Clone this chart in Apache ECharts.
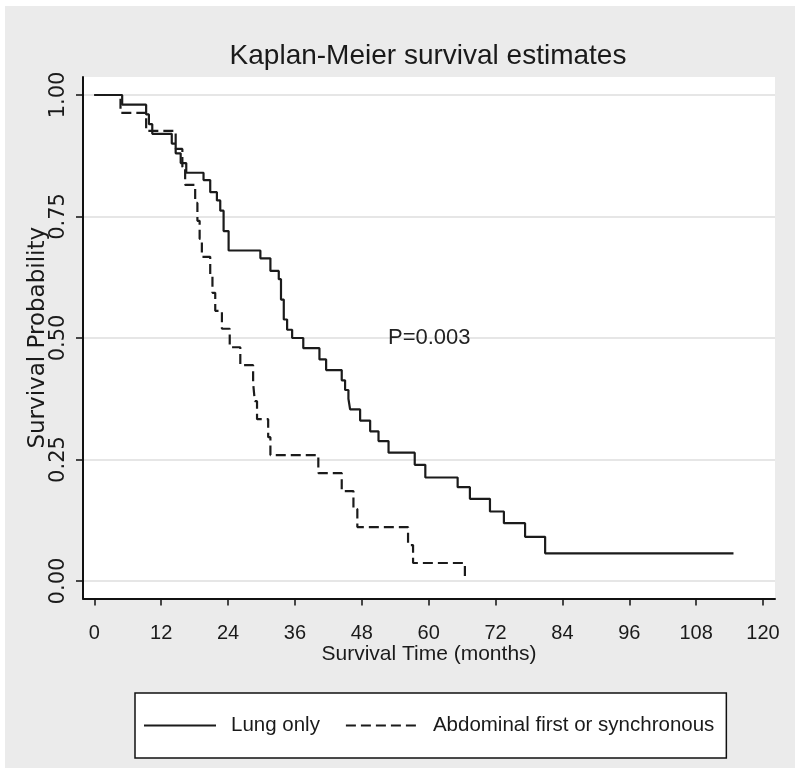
<!DOCTYPE html>
<html>
<head>
<meta charset="utf-8">
<script src="https://cdn.jsdelivr.net/npm/echarts@6/dist/echarts.min.js"></script>
<style>
html,body{margin:0;padding:0;background:#fff;}
#c{width:800px;height:775px;}
</style>
</head>
<body>
<div id="c"></div>
<script>
// ---- data ----
const titleText = 'Kaplan-Meier survival estimates';
const xAxisName = 'Survival Time (months)';
const yAxisName = 'Survival Probability';
const seriesNames = ['Lung only', 'Abdominal first or synchronous'];
const pValueText = 'P=0.003';

const xTicks = [0, 12, 24, 36, 48, 60, 72, 84, 96, 108, 120];
const yTicks = [0, 0.25, 0.5, 0.75, 1];

const lungTimes = [0, 5, 9.3, 9.8, 10.4, 13.9, 14.6, 15.5, 16.5, 19.6, 20.8, 22, 22.6, 23.2, 24.1,
  29.8, 31.6, 33.1, 33.5, 34, 34.6, 35.5, 37.5, 40.4, 41.6, 44.4, 45.0, 45.6, 45.9, 47.7, 49.5,
  51, 52.8, 57.5, 59.4, 65.2, 67.4, 71, 73.5, 77.3, 80.9, 114.7];
const lungSurv = [1, 0.98, 0.96, 0.94, 0.92, 0.90, 0.88, 0.86, 0.84, 0.825, 0.80, 0.783, 0.762, 0.72, 0.68,
  0.664, 0.638, 0.621, 0.579, 0.538, 0.517, 0.50, 0.479, 0.456, 0.434, 0.413, 0.393, 0.375, 0.353, 0.33, 0.308,
  0.288, 0.264, 0.239, 0.213, 0.193, 0.169, 0.143, 0.119, 0.091, 0.057, 0.057];

const abdTimes = [0, 4.7, 9.3, 14.6, 15.8, 16.3, 18.1, 18.5, 18.9, 19.3, 20.8, 21.2, 21.7, 22.9,
  24.3, 26.2, 28.5, 28.8, 29.2, 31.2, 31.6, 40.2, 44.4, 46.5, 47.2, 56.3, 57.2, 66.5];
const abdSurv = [1, 0.963, 0.926, 0.889, 0.852, 0.815, 0.778, 0.741, 0.704, 0.667, 0.630, 0.593, 0.556, 0.519,
  0.481, 0.444, 0.407, 0.370, 0.333, 0.296, 0.259, 0.222, 0.185, 0.148, 0.111, 0.074, 0.037, 0];

// ---- chart ----
const SANS = '"Liberation Sans", Arial, Helvetica, sans-serif';
const WIDE = '"DejaVu Sans", "Liberation Sans", Arial, sans-serif';
const INK = '#1b1b1b';

const zip = (a, b) => a.map((t, i) => [t, b[i]]);

const chart = echarts.init(document.getElementById('c'), null, { renderer: 'canvas' });

const option = {
  animation: false,
  backgroundColor: '#ffffff',
  title: {
    text: titleText,
    left: 428,
    top: 42,
    padding: 0,
    textAlign: 'center',
    textStyle: { fontFamily: SANS, fontSize: 28, fontWeight: 'normal', color: '#1a1a1a' }
  },
  graphic: [
    { type: 'rect', z: -100, silent: true, shape: { x: 5, y: 6, width: 790, height: 762 }, style: { fill: '#ebebeb' } },
    { type: 'text', z: 50, silent: true, x: 388, y: 338,
      style: { text: pValueText, fontFamily: SANS, fontSize: 22, fill: '#222', verticalAlign: 'middle', align: 'left' } }
  ],
  grid: {
    left: 83, right: 25, top: 77, bottom: 176.5,
    show: true, backgroundColor: '#ffffff', borderWidth: 0,
    outerBoundsMode: 'none', containLabel: false
  },
  legend: {
    data: seriesNames,
    left: 135, top: 693,
    orient: 'horizontal',
    selectedMode: false,
    backgroundColor: '#ffffff',
    borderColor: '#111',
    borderWidth: 1.5,
    borderRadius: 0,
    padding: [22, 12, 22, 8],
    itemWidth: 72,
    itemHeight: 14,
    itemGap: 25,
    itemStyle: { opacity: 0, borderWidth: 0 },
    textStyle: { fontFamily: SANS, fontSize: 20.5, color: '#1a1a1a', padding: [0, 0, 0, 10] }
  },
  xAxis: {
    type: 'value',
    min: -2.03, max: 122.15,
    name: xAxisName,
    nameLocation: 'middle',
    nameGap: 45,
    nameMoveOverlap: false,
    nameTextStyle: { fontFamily: SANS, fontSize: 21, color: '#1a1a1a' },
    axisLine: { show: true, onZero: false, lineStyle: { color: '#111', width: 2 } },
    axisTick: { show: true, customValues: xTicks, length: 7, lineStyle: { color: '#111', width: 1.5 } },
    axisLabel: { customValues: xTicks, margin: 25, fontFamily: SANS, fontSize: 20, color: '#1a1a1a' },
    splitLine: { show: false }
  },
  yAxis: {
    type: 'value',
    min: -0.036, max: 1.037,
    name: yAxisName,
    nameLocation: 'middle',
    nameGap: 33,
    nameMoveOverlap: false,
    nameRotate: 90,
    nameTextStyle: { fontFamily: WIDE, fontSize: 23, color: '#1a1a1a' },
    axisLine: { show: true, onZero: false, lineStyle: { color: '#111', width: 2 } },
    axisTick: { show: true, customValues: yTicks, length: 7, lineStyle: { color: '#111', width: 1.5 } },
    axisLabel: { customValues: yTicks, rotate: 90, margin: 14, fontFamily: WIDE, fontSize: 21, color: '#1a1a1a',
      formatter: v => v.toFixed(2) },
    splitLine: { show: true, lineStyle: { color: '#dedede', width: 1.5 } }
  },
  series: [
    {
      name: seriesNames[0], type: 'line', step: 'end',
      data: zip(lungTimes, lungSurv),
      symbol: 'none', showSymbol: false,
      lineStyle: { color: INK, width: 2.2, type: 'solid' },
      itemStyle: { color: INK },
      z: 3
    },
    {
      name: seriesNames[1], type: 'line', step: 'end',
      data: zip(abdTimes, abdSurv),
      symbol: 'none', showSymbol: false,
      lineStyle: { color: INK, width: 2.2, type: [10, 5] },
      itemStyle: { color: INK },
      z: 3
    }
  ]
};
chart.setOption(option);
</script>
</body>
</html>
